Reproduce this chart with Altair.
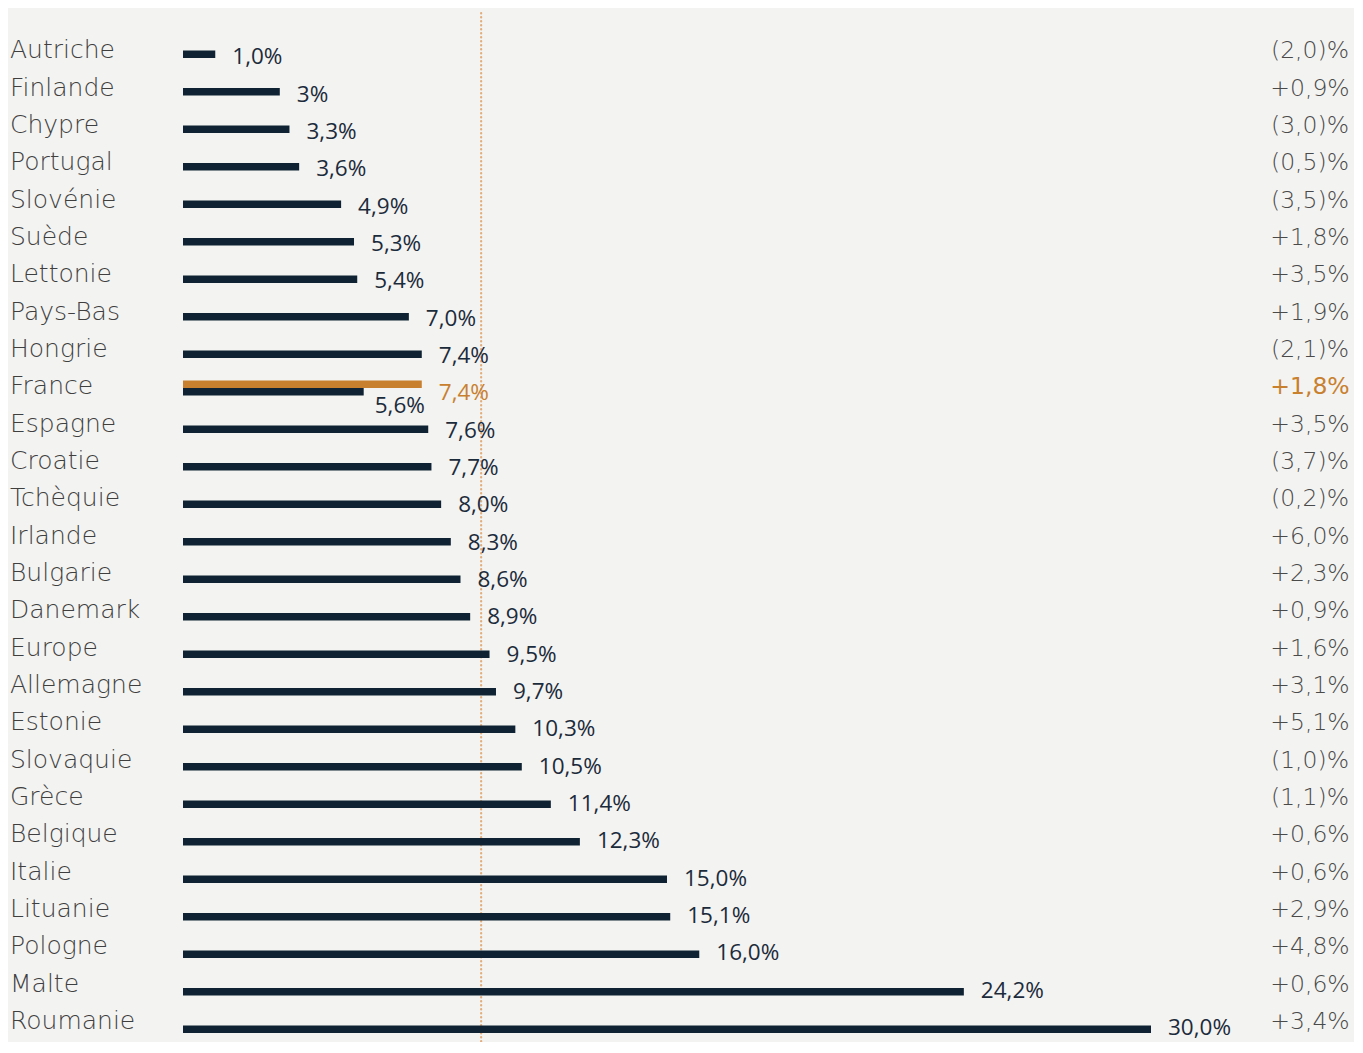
import altair as alt
import pandas as pd

countries = ["Autriche", "Finlande", "Chypre", "Portugal", "Slovénie", "Suède", "Lettonie",
             "Pays-Bas", "Hongrie", "France", "Espagne", "Croatie", "Tchèquie", "Irlande",
             "Bulgarie", "Danemark", "Europe", "Allemagne", "Estonie", "Slovaquie", "Grèce",
             "Belgique", "Italie", "Lituanie", "Pologne", "Malte", "Roumanie"]
values = [1.0, 3.0, 3.3, 3.6, 4.9, 5.3, 5.4, 7.0, 7.4, 5.6, 7.6, 7.7, 8.0, 8.3,
          8.6, 8.9, 9.5, 9.7, 10.3, 10.5, 11.4, 12.3, 15.0, 15.1, 16.0, 24.2, 30.0]
value_labels = ["1,0%", "3%", "3,3%", "3,6%", "4,9%", "5,3%", "5,4%", "7,0%", "7,4%", "5,6%",
                "7,6%", "7,7%", "8,0%", "8,3%", "8,6%", "8,9%", "9,5%", "9,7%", "10,3%",
                "10,5%", "11,4%", "12,3%", "15,0%", "15,1%", "16,0%", "24,2%", "30,0%"]
changes = ["(2,0)%", "+0,9%", "(3,0)%", "(0,5)%", "(3,5)%", "+1,8%", "+3,5%", "+1,9%", "(2,1)%",
           "+1,8%", "+3,5%", "(3,7)%", "(0,2)%", "+6,0%", "+2,3%", "+0,9%", "+1,6%", "+3,1%",
           "+5,1%", "(1,0)%", "(1,1)%", "+0,6%", "+0,6%", "+2,9%", "+4,8%", "+0,6%", "+3,4%"]
highlight_country = "France"
highlight_value = 7.4
highlight_label = "7,4%"
reference_value = 9.24

NAVY = "#0f2233"
NAVY_TXT = "#1c2b3b"
ORANGE = "#c8802f"
BG = "#f3f3f1"
LABEL_FONT = "DejaVu Sans"
VALUE_FONT = "Open Sans"

df = pd.DataFrame({"pays": countries, "valeur": values, "etiquette": value_labels,
                   "evolution": changes})
is_hl = df["pays"] == highlight_country
hl_df = pd.DataFrame({"pays": [highlight_country], "valeur": [highlight_value],
                      "etiquette": [highlight_label],
                      "evolution": [changes[countries.index(highlight_country)]]})
ref_df = pd.DataFrame({"ref": [reference_value]})

x_scale = alt.Scale(domain=[0, 30], range=[175, 1143], nice=False, zero=True)
bar_y = alt.Scale(domain=countries, range=[27.55, 1040.05], paddingInner=0, paddingOuter=0)
txt_y = alt.Scale(domain=countries, range=[31.63, 1039.7], paddingInner=0, paddingOuter=0)


def X(field="valeur"):
    return alt.X(f"{field}:Q", scale=x_scale, axis=None)


def Y(s):
    return alt.Y("pays:N", scale=s, axis=None)


ref_line = alt.Chart(ref_df).mark_rule(
    color="#e2ac7c", strokeWidth=2.2, strokeDash=[0.5, 3.5], strokeCap="round"
).encode(x=X("ref"), y=alt.value(5), y2=alt.value(1040))

bars = alt.Chart(df).mark_bar(color=NAVY, size=7.5).encode(x=X(), y=Y(bar_y))
hl_bar = alt.Chart(hl_df).mark_bar(color=ORANGE, size=7.5, yOffset=-7.5).encode(
    x=X(), y=Y(bar_y))

cat_text = alt.Chart(df).mark_text(
    align="left", baseline="alphabetic", font=LABEL_FONT, fontWeight=200, fontSize=25,
    color="#3f3f3f"
).encode(x=alt.value(2), y=Y(txt_y), text="pays:N")

val_text = alt.Chart(df[~is_hl]).mark_text(
    align="left", baseline="alphabetic", font=VALUE_FONT, fontSize=22.5, dx=17, dy=6,
    color=NAVY_TXT
).encode(x=X(), y=Y(txt_y), text="etiquette:N")

hl_navy_text = alt.Chart(df[is_hl]).mark_text(
    align="left", baseline="alphabetic", font=VALUE_FONT, fontSize=22.5, dx=11, dy=18.5,
    color=NAVY_TXT
).encode(x=X(), y=Y(txt_y), text="etiquette:N")

hl_val_text = alt.Chart(hl_df).mark_text(
    align="left", baseline="alphabetic", font=VALUE_FONT, fontSize=22.5, dx=17, dy=6,
    color=ORANGE
).encode(x=X(), y=Y(txt_y), text="etiquette:N")

chg_text = alt.Chart(df[~is_hl]).mark_text(
    align="center", baseline="alphabetic", font=LABEL_FONT, fontWeight=200, fontSize=23.5,
    color="#4a4a4a"
).encode(x=alt.value(1302), y=Y(txt_y), text="evolution:N")

hl_chg_text = alt.Chart(hl_df).mark_text(
    align="center", baseline="alphabetic", font=LABEL_FONT, fontWeight=400, fontSize=23.5,
    color=ORANGE
).encode(x=alt.value(1302), y=Y(txt_y), text="evolution:N")

chart = alt.layer(
    ref_line, bars, hl_bar, cat_text, val_text, hl_navy_text, hl_val_text, chg_text, hl_chg_text
).resolve_scale(y="independent").properties(
    width=1346, height=1034, padding=0,
    autosize=alt.AutoSizeParams(type="none"),
    background=BG
).configure_view(stroke=None)

chart.save("out.html", embed_options={"renderer": "svg", "actions": False})
